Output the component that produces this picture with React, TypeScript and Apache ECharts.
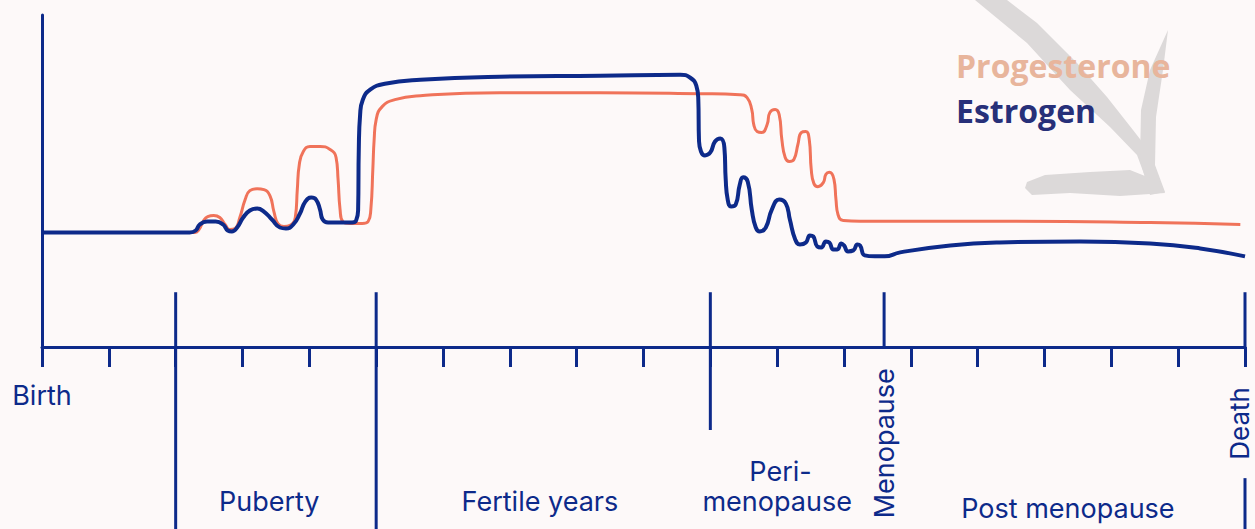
import React, { useEffect, useRef } from "react";
import * as echarts from "echarts";

// Life stage axis: 0 = Birth ... 180 = Death (arbitrary life units)
const estrogen: [number, number][] = [
  [0, 34.5], [22.1, 34.5], [23.0, 35.1], [23.6, 36.9], [24.7, 37.8], [26.0, 37.8], [27.1, 36.9],
  [27.8, 35.1], [28.4, 34.8], [29.2, 36.0], [30.1, 39.0], [31.1, 41.1], [32.2, 41.7], [33.2, 40.8],
  [34.4, 38.4], [35.6, 36.0], [36.5, 35.7], [37.6, 36.9], [38.6, 40.2], [39.4, 43.8], [40.3, 45.0],
  [41.0, 44.4], [41.6, 41.4], [42.0, 38.4], [42.8, 37.5], [44.6, 37.5], [46.4, 37.5], [47.0, 38.1],
  [47.3, 41.4], [47.4, 59.5], [47.6, 70.0], [48.0, 74.5], [49.1, 77.5], [51.3, 79.3], [56.6, 80.5],
  [68.5, 81.4], [83.5, 81.7], [95.5, 82.0], [97.0, 81.1], [97.9, 78.7], [98.2, 74.5], [98.3, 62.5],
  [98.6, 58.9], [99.2, 57.7], [100.0, 58.6], [100.7, 61.9], [101.5, 62.8], [102.1, 60.1], [102.3, 50.5],
  [102.6, 44.4], [103.1, 42.3], [103.8, 42.9], [104.4, 48.9], [104.9, 51.1], [105.6, 49.8], [106.2, 41.4],
  [106.8, 36.0], [107.4, 34.8], [108.3, 36.0], [109.2, 41.4], [110.3, 44.4], [111.3, 43.2], [111.9, 38.4],
  [112.7, 32.4], [113.4, 30.9], [114.3, 31.5], [114.9, 33.6], [115.4, 33.3], [116.0, 30.3], [116.6, 30.0],
  [117.3, 31.8], [117.8, 31.5], [118.4, 29.4], [119.0, 29.4], [119.6, 31.2], [120.0, 30.6], [120.6, 28.8],
  [121.4, 29.1], [122.0, 30.9], [122.4, 30.6], [123.1, 27.6], [124.6, 27.3], [126.1, 27.3], [128.4, 28.5],
  [135.9, 30.6], [143.3, 31.5], [155.3, 31.8], [165.8, 31.2], [173.3, 29.7], [180, 27.3],
];

const progesterone: [number, number][] = [
  [0, 34.5], [22.9, 34.5], [23.5, 35.4], [24.1, 37.8], [24.8, 39.3], [25.7, 39.6], [26.6, 39.0],
  [27.4, 36.9], [28.1, 35.4], [28.9, 35.7], [29.6, 39.0], [30.4, 44.4], [31.1, 47.1], [32.2, 47.7],
  [33.2, 47.4], [34.1, 45.6], [34.7, 40.8], [35.3, 37.2], [36.2, 36.3], [37.1, 36.6], [37.9, 39.0],
  [38.2, 47.4], [38.5, 55.0], [39.1, 58.9], [40.1, 60.4], [41.6, 60.4], [43.1, 59.5], [44.0, 57.1],
  [44.3, 50.5], [44.6, 41.4], [45.0, 37.8], [46.1, 37.2], [47.9, 37.2], [48.8, 37.8], [49.2, 41.4],
  [49.5, 53.5], [49.7, 62.5], [50.0, 68.5], [50.9, 72.4], [52.8, 74.5], [56.6, 75.7], [68.5, 76.6],
  [83.5, 76.6], [98.5, 76.3], [104.4, 76.0], [105.5, 75.1], [106.2, 71.5], [106.5, 67.0], [107.0, 64.9],
  [107.7, 64.6], [108.5, 67.0], [108.9, 70.6], [109.7, 71.5], [110.3, 70.0], [110.7, 62.5], [111.2, 57.1],
  [111.8, 55.9], [112.5, 56.5], [113.1, 61.0], [113.6, 64.6], [114.3, 64.9], [114.8, 62.5], [115.1, 53.5],
  [115.5, 49.2], [116.1, 48.3], [116.9, 49.5], [117.3, 52.0], [117.8, 52.6], [118.5, 50.5], [118.8, 44.4],
  [119.1, 39.9], [119.9, 38.1], [122.4, 37.9], [143.3, 37.9], [165.8, 37.5], [179.3, 36.9],
];

const phaseBoundaries = [20, 50];
const periStart = 100;
const menopauseAge = 126;
const deathAge = 180;
const phaseLabels = [
  { text: "Puberty", x: 34, y: -46.5 },
  { text: "Fertile years", x: 74.5, y: -46.5 },
  { text: "Peri-", x: 110.5, y: -37.5 },
  { text: "menopause", x: 110, y: -46.5 },
  { text: "Post menopause", x: 153.5, y: -48.5 },
];

const NAVY = "#0d2a8a";
const ORANGE = "#f0735a";
const BG = "#fdf9f9";

export default function App() {
  const ref = useRef<HTMLDivElement>(null);
  useEffect(() => {
    if (!ref.current) return;
    const chart = echarts.init(ref.current, null, { renderer: "svg" });
    const option: any = {
      animation: false,
      backgroundColor: BG,
      grid: { left: 42, right: 10, top: 15, bottom: 182 },
      legend: {
        orient: "vertical",
        left: 946,
        top: 44,
        icon: "none",
        itemWidth: 0,
        itemHeight: 32,
        itemGap: 13,
        selectedMode: false,
        textStyle: { fontSize: 32, fontWeight: 700, fontFamily: "Open Sans", lineHeight: 32 },
        data: [
          { name: "Progesterone", textStyle: { color: "#e8b59c" } },
          { name: "Estrogen", textStyle: { color: "#273079" } },
        ],
      },
      xAxis: {
        type: "value",
        min: 0,
        max: deathAge,
        interval: 10,
        axisLine: { show: true, lineStyle: { color: NAVY, width: 3 } },
        axisTick: { show: true, length: 20, lineStyle: { color: NAVY, width: 3 } },
        splitLine: { show: false },
        axisLabel: {
          margin: 35,
          color: NAVY,
          fontSize: 27,
          fontFamily: "Inter",
          formatter: (v: number) => (v === 0 ? "Birth" : ""),
        },
      },
      yAxis: {
        type: "value",
        min: 0,
        max: 100,
        axisLine: { show: true, lineStyle: { color: NAVY, width: 3 } },
        axisTick: { show: false },
        axisLabel: { show: false },
        splitLine: { show: false },
      },
      series: [
        {
          name: "Progesterone",
          type: "line",
          data: progesterone,
          showSymbol: false,
          smooth: 0.5,
          lineStyle: { color: ORANGE, width: 3 },
          itemStyle: { color: ORANGE },
          z: 3,
        },
        {
          name: "Estrogen",
          type: "line",
          data: estrogen,
          showSymbol: false,
          smooth: 0.5,
          lineStyle: { color: NAVY, width: 4 },
          itemStyle: { color: NAVY },
          z: 4,
        },
      ],
    };
    chart.setOption(option);

    const px = (x: number, y: number) => chart.convertToPixel({ gridIndex: 0 }, [x, y]) as number[];
    const vline = (x: number, y1: number, y2: number) => {
      const a = px(x, y1);
      const b = px(x, y2);
      return {
        type: "line",
        z: 5,
        shape: { x1: a[0], y1: a[1], x2: b[0], y2: b[1] },
        style: { stroke: NAVY, lineWidth: 3 },
      };
    };
    const graphics: any[] = [];
    // decorative brush arrow
    const arrowStyle = { fill: "#dcd9d9" };
    graphics.push(
      {
        type: "polygon", z: 0,
        shape: { points: [[975, 0], [1007, 0], [1037, 23], [1077, 63], [1107, 97], [1133, 130], [1150, 152], [1163, 190], [1150, 190], [1137, 155], [1110, 127], [1070, 90], [1027, 43]] },
        style: arrowStyle,
      },
      {
        type: "polygon", z: 0,
        shape: { points: [[1168, 30], [1163, 70], [1156, 117], [1155, 165], [1165, 192], [1150, 195], [1140, 160], [1141, 110], [1150, 70]] },
        style: arrowStyle,
      },
      {
        type: "polygon", z: 0,
        shape: { points: [[1027, 182], [1045, 175], [1090, 172], [1130, 170], [1160, 182], [1165, 193], [1120, 196], [1070, 193], [1032, 195], [1025, 188]] },
        style: arrowStyle,
      }
    );
    const top = 16.5;
    const bottom = -56;
    phaseBoundaries.forEach((b) => graphics.push(vline(b, top, bottom)));
    graphics.push(vline(periStart, top, -25));
    graphics.push(vline(menopauseAge, top, 0));
    graphics.push(vline(deathAge, top, 0));
    graphics.push(vline(deathAge, -39.5, bottom));

    const font = { fontSize: 27, fontFamily: "Inter", fill: NAVY, lineHeight: 24 };
    phaseLabels.forEach((l) => {
      const p = px(l.x, l.y);
      graphics.push({
        type: "text", z: 5, x: p[0], y: p[1],
        style: { ...font, text: l.text, align: "center", verticalAlign: "middle" },
      });
    });
    const m = px(menopauseAge, -29);
    graphics.push({
      type: "text", z: 5, x: m[0], y: m[1], rotation: Math.PI / 2,
      style: { ...font, text: "Menopause", align: "center", verticalAlign: "middle" },
    });
    const d = px(deathAge, -23);
    graphics.push({
      type: "text", z: 5, x: d[0] - 6, y: d[1], rotation: Math.PI / 2,
      style: { ...font, fontSize: 26, text: "Death", align: "center", verticalAlign: "middle" },
    });
    chart.setOption({ graphic: graphics });

    return () => chart.dispose();
  }, []);
  return (
    <div
      ref={ref}
      style={{ position: "absolute", left: 0, top: 0, width: 1255, height: 529, background: BG }}
    />
  );
}
